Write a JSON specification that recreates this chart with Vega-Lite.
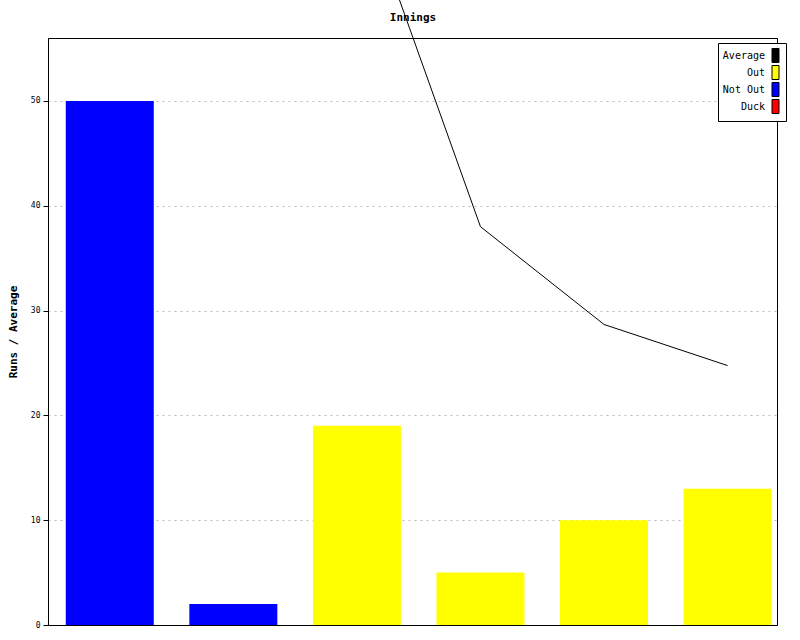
{
  "$schema": "https://vega.github.io/schema/vega-lite/v6.json",
  "autosize": {"type": "none"},
  "width": 729,
  "height": 587,
  "padding": {"left": 48, "top": 38, "right": 23, "bottom": 15},
  "background": "white",
  "config": {
    "font": "DejaVu Sans Mono",
    "view": {"stroke": "black", "strokeWidth": 1}
  },
  "data": {
    "values": [
      {"innings": 1, "runs": 50, "status": "Not Out", "average": null},
      {"innings": 2, "runs": 2, "status": "Not Out", "average": null},
      {"innings": 3, "runs": 19, "status": "Out", "average": 71},
      {"innings": 4, "runs": 5, "status": "Out", "average": 38},
      {"innings": 5, "runs": 10, "status": "Out", "average": 28.67},
      {"innings": 6, "runs": 13, "status": "Out", "average": 24.75}
    ]
  },
  "layer": [
    {
      "mark": {"type": "bar", "size": 88},
      "encoding": {
        "x": {
          "field": "innings",
          "type": "quantitative",
          "scale": {"domain": [0.5, 6.4], "nice": false, "zero": false, "padding": 0},
          "axis": {
            "orient": "top",
            "title": "Innings",
            "titleFont": "DejaVu Sans Mono",
            "titleFontSize": 11,
            "titleFontWeight": "bold",
            "titleColor": "black",
            "titlePadding": 16,
            "labels": false,
            "ticks": false,
            "domain": false,
            "grid": false
          }
        },
        "y": {
          "field": "runs",
          "type": "quantitative",
          "scale": {"domain": [0, 56], "nice": false},
          "axis": {
            "title": "Runs / Average",
            "titleFont": "DejaVu Sans Mono",
            "titleFontSize": 11,
            "titleFontWeight": "bold",
            "titleColor": "black",
            "titlePadding": 12,
            "values": [0, 10, 20, 30, 40, 50],
            "labelFont": "DejaVu Sans Mono",
            "labelFontSize": 8,
            "labelColor": "black",
            "labelPadding": 3,
            "tickSize": 5,
            "tickColor": "black",
            "domainColor": "black",
            "grid": true,
            "gridColor": "#bbbbbb",
            "gridOpacity": {"condition": {"test": "datum.value === 0", "value": 0}, "value": 1},
            "gridDash": [2, 4],
            "gridWidth": 1
          }
        },
        "color": {
          "field": "status",
          "type": "nominal",
          "scale": {
            "domain": ["Average", "Out", "Not Out", "Duck"],
            "range": ["black", "yellow", "blue", "red"]
          },
          "legend": {
            "title": null,
            "orient": "none",
            "legendX": 670,
            "legendY": 5,
            "padding": 5,
            "strokeColor": "black",
            "fillColor": "white",
            "symbolType": "M-0.5,-1H0.5V1H-0.5Z",
            "symbolSize": 196,
            "symbolStrokeColor": "black",
            "symbolStrokeWidth": 1,
            "symbolOpacity": 1,
            "symbolOffset": 45,
            "labelFont": "DejaVu Sans Mono",
            "labelFontSize": 10,
            "labelColor": "black",
            "rowPadding": -2,
            "labelAlign": "right",
            "labelOffset": -18
          }
        }
      }
    },
    {
      "mark": {"type": "line", "color": "black", "strokeWidth": 1},
      "encoding": {
        "x": {"field": "innings", "type": "quantitative"},
        "y": {"field": "average", "type": "quantitative"}
      }
    }
  ]
}
